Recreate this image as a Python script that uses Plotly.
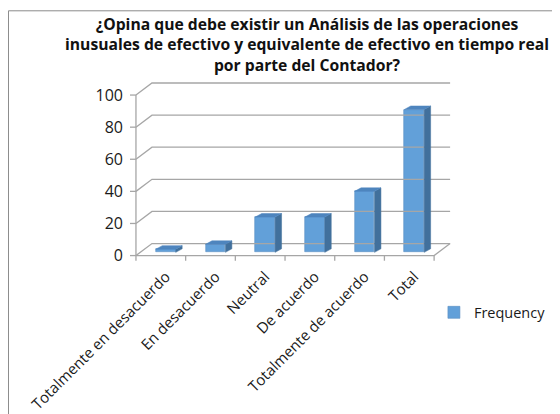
import plotly.graph_objects as go

# data
categories = ['Totalmente en desacuerdo', 'En desacuerdo', 'Neutral',
              'De acuerdo', 'Totalmente de acuerdo', 'Total']
frequency = [2, 5, 22, 22, 38, 89]
y_ticks = [0, 20, 40, 60, 80, 100]

title_lines = ['¿Opina que debe existir un Análisis de las operaciones',
               'inusuales de efectivo y equivalente de efectivo en tiempo real',
               'por parte del Contador?']

# pseudo 3D geometry (in axis units)
DX, DY = 0.322, 7.5          # depth of the floor / back wall
BAR_W, BAR_OFF, BAR_BASE = 0.40, 0.10, 2.0
SIDE_DX, SIDE_DY = 0.13, 2.2

FRONT = '#62A0D9'
SIDE = '#41709C'
TOP = '#4E85BE'
GRID = '#a6a6a6'
FONT = 'Open Sans'

# the page body has an 8px margin, so the figure is drawn shifted by it
OFF = 8
W, H = 560 - OFF, 414 - OFF

# pixel mapping (screen pixels) used for margins
PX_X0, UX = 136 - OFF, 49.7
PX_Y0, UY = 256 - OFF, 1.61
XR = [-0.14, 6.36]
YR = [-4, 110]

n = len(categories)
x_front = [i + 0.5 + BAR_OFF for i in range(n)]

fig = go.Figure()

# back wall gridlines (with the diagonal at the left wall)
gx, gy = [], []
for v in y_ticks:
    gx += [0, DX, n + DX, None]
    gy += [v, v + DY, v + DY, None]
fig.add_trace(go.Scatter(x=gx, y=gy, mode='lines', line=dict(color=GRID, width=1.3),
                         hoverinfo='skip', showlegend=False))

# front axis, floor edge and tick marks
ax, ay = [0, 0, None, 0, n, n + DX, None], [0, y_ticks[-1], None, 0, 0, DY, None]
for v in y_ticks:
    ax += [-0.12, 0, None]
    ay += [v, v, None]
for i in range(n + 1):
    ax += [i, i, None]
    ay += [0, -3.2, None]
fig.add_trace(go.Scatter(x=ax, y=ay, mode='lines', line=dict(color=GRID, width=1.3),
                         hoverinfo='skip', showlegend=False))

# front faces
fig.add_trace(go.Bar(x=x_front, y=frequency, base=BAR_BASE, width=BAR_W,
                     marker=dict(color=FRONT, line=dict(color='#5a8fc2', width=0.6)),
                     name='Frequency'))

# side and top faces
sx, sy, tx, ty = [], [], [], []
for xc, v in zip(x_front, frequency):
    xl, xr = xc - BAR_W / 2, xc + BAR_W / 2
    top = BAR_BASE + v
    sx += [xr, xr + SIDE_DX, xr + SIDE_DX, xr, xr, None]
    sy += [BAR_BASE, BAR_BASE + SIDE_DY, top + SIDE_DY, top, BAR_BASE, None]
    tx += [xl, xr, xr + SIDE_DX, xl + SIDE_DX, xl, None]
    ty += [top, top, top + SIDE_DY, top + SIDE_DY, top, None]
fig.add_trace(go.Scatter(x=sx, y=sy, fill='toself', fillcolor=SIDE, mode='lines',
                         line=dict(color=SIDE, width=0.5), hoverinfo='skip', showlegend=False))
fig.add_trace(go.Scatter(x=tx, y=ty, fill='toself', fillcolor=TOP, mode='lines',
                         line=dict(color=TOP, width=0.5), hoverinfo='skip', showlegend=False))

left = PX_X0 + XR[0] * UX
right = PX_X0 + XR[1] * UX
top_px = PX_Y0 - YR[1] * UY
bottom_px = PX_Y0 - YR[0] * UY


def px_x(x):
    return (x - OFF - left) / (right - left)


def px_y(y):
    return (bottom_px - (y - OFF)) / (bottom_px - top_px)


fig.update_layout(
    width=W, height=H,
    margin=dict(l=left, r=W - right, t=top_px, b=H - bottom_px, autoexpand=False),
    paper_bgcolor='white', plot_bgcolor='white',
    font=dict(family=FONT, color='#1a1a1a'),
    xaxis=dict(range=XR, showgrid=False, zeroline=False, showline=False,
               tickvals=x_front, ticktext=categories,
               tickangle=-45, tickfont=dict(size=15), ticks='', ticklabelstandoff=2),
    yaxis=dict(range=YR, showgrid=False, zeroline=False, showline=False,
               tickvals=y_ticks, tickfont=dict(size=16), ticks='', ticklabelstandoff=5),
    bargap=0,
    showlegend=True,
    legend=dict(x=px_x(434), xanchor='left', y=px_y(313), yanchor='middle',
                font=dict(size=14.5), bgcolor='rgba(0,0,0,0)'),
    annotations=[dict(text='<b>' + '<br>'.join(title_lines) + '</b>',
                      xref='paper', yref='paper', x=px_x(307), y=px_y(11),
                      xanchor='center', yanchor='top', showarrow=False,
                      font=dict(size=15.7, color='#111111'))],
    shapes=[dict(type='rect', xref='paper', yref='paper',
                 x0=px_x(8.5), x1=2, y0=-2, y1=px_y(10.5),
                 line=dict(color='#8a8a8a', width=1), layer='below')],
)

fig.write_html('out.html')
